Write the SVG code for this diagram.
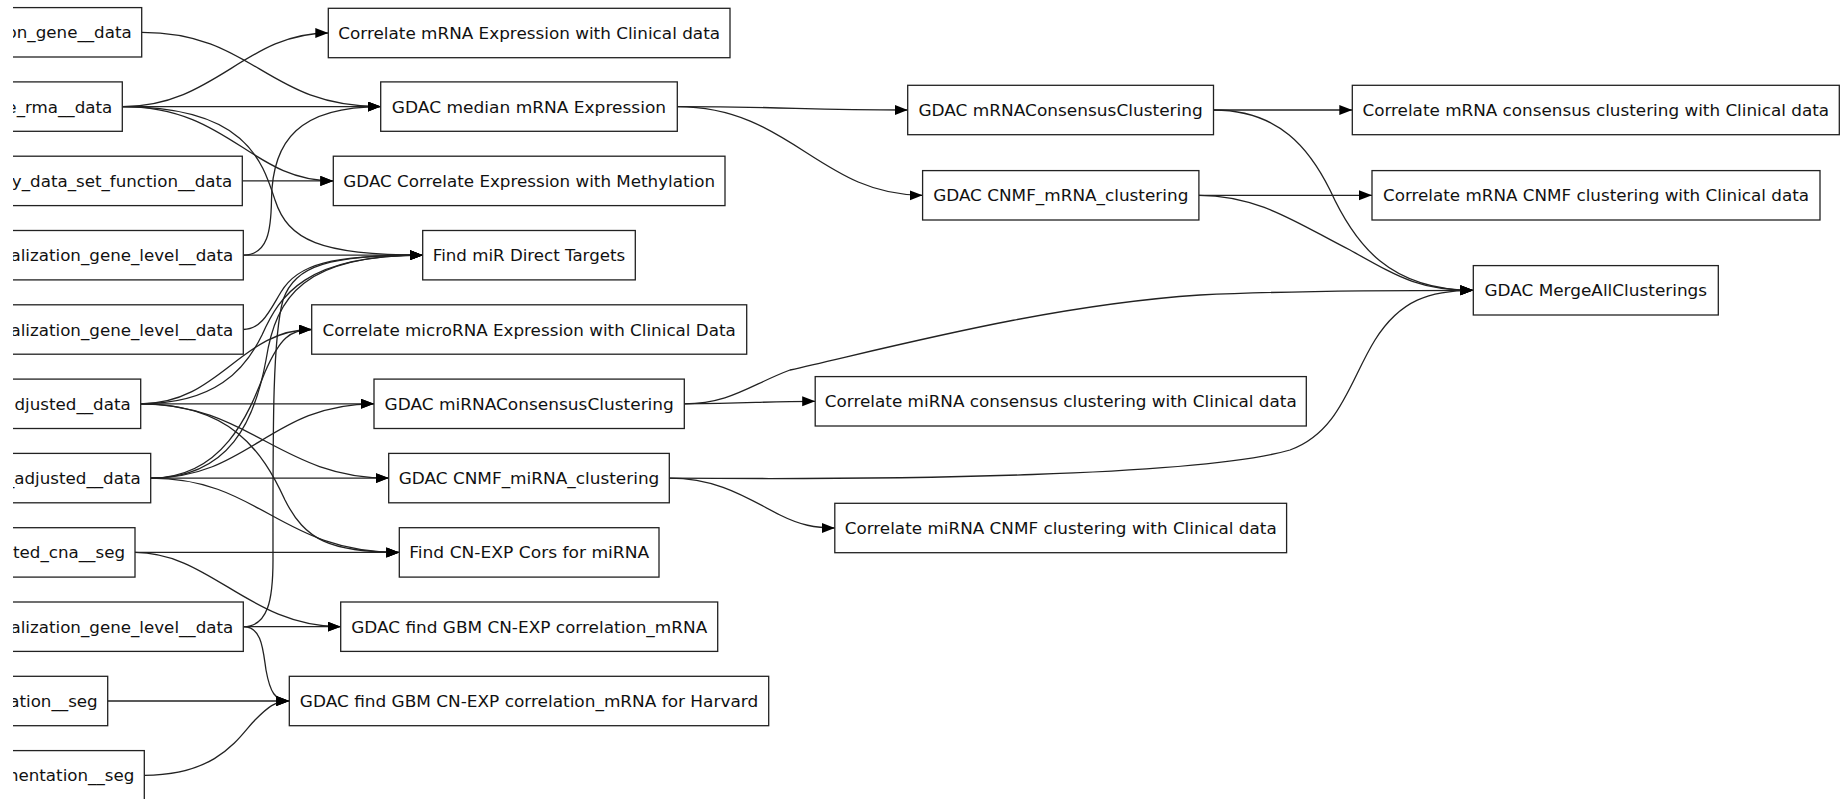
<svg xmlns="http://www.w3.org/2000/svg" width="1845" height="799" viewBox="0 0 1845 799">
<style>
rect.b{fill:#fff;stroke:#222;stroke-width:1.3}
text{font-family:"DejaVu Sans","Liberation Sans",sans-serif;font-size:16.7px;fill:#111}
text.l{text-anchor:end}
text.c{text-anchor:middle}
#edges path{fill:none;stroke:#222;stroke-width:1.3;marker-end:url(#a)}
</style>
<defs>
<marker id="a" markerUnits="userSpaceOnUse" markerWidth="14" markerHeight="12" refX="13" refY="5" orient="auto"><path d="M0,0 L13,5 L0,10 z" fill="#000"/></marker>
<clipPath id="lc"><rect x="13" y="0" width="400" height="799"/></clipPath>
</defs>
<rect width="1845" height="799" fill="#fff"/>
<g id="edges">
<path d="M141.7,32.3 C255,32.3 265,106.6 380.7,106.6"/>
<path d="M122.3,106.6 C215,106.6 245,33 328.3,33"/>
<path d="M122.3,106.6 L380.7,106.6"/>
<path d="M122.3,106.6 C230,106.6 250,180.9 333.3,180.9"/>
<path d="M122.3,106.6 C245,106.6 262,160 275,200 C288,240 320,255.2 422.7,255.2"/>
<path d="M242.3,180.9 L333.3,180.9"/>
<path d="M243.3,255.2 C268,255.2 271,230 271.5,200 C272,140 300,106.6 380.7,106.6"/>
<path d="M243.3,255.2 L422.7,255.2"/>
<path d="M243.3,329.5 C262,329.5 270,310 281,292 C298,264 330,255.2 422.7,255.2"/>
<path d="M140.7,403.8 C215,403.8 245,370 262,335 C280,295 305,255.2 422.7,255.2"/>
<path d="M140.7,403.8 C220,403.8 240,329.5 311.7,329.5"/>
<path d="M140.7,403.8 L374,403.8"/>
<path d="M140.7,403.8 C250,403.8 280,478.1 388.7,478.1"/>
<path d="M140.7,403.8 C230,403.8 262,450 285,500 C305,540 330,552.4 399.3,552.4"/>
<path d="M150.7,478.1 C230,478.1 255,420 266,360 C276,295 305,255.2 422.7,255.2"/>
<path d="M150.7,478.1 C225,478.1 250,410 265,372 C280,338 290,329.5 311.7,329.5"/>
<path d="M150.7,478.1 C250,478.1 270,403.8 374,403.8"/>
<path d="M150.7,478.1 L388.7,478.1"/>
<path d="M150.7,478.1 C260,478.1 280,552.4 399.3,552.4"/>
<path d="M135,552.4 L399.3,552.4"/>
<path d="M135,552.4 C210,552.4 250,626.7 340.7,626.7"/>
<path d="M243.3,626.7 C268,626.7 273,600 273,560 C273,440 272,340 283,300 C295,265 330,255.2 422.7,255.2"/>
<path d="M243.3,626.7 L340.7,626.7"/>
<path d="M243.3,626.7 C262,626.7 263,650 266,670 C270,692 275,701 289.3,701"/>
<path d="M107.7,701 L289.3,701"/>
<path d="M144.3,775.3 C220,775.3 240,735 255,720 C268,707 275,701 289.3,701"/>
<path d="M677.3,106.6 C790,106.6 800,110 907.7,110"/>
<path d="M677.3,106.6 C790,106.6 820,195.3 922.6,195.3"/>
<path d="M1213.5,110 L1352.3,110"/>
<path d="M1213.5,110 C1280,110 1310,150 1330,190 C1355,245 1390,290.3 1473.3,290.3"/>
<path d="M1198.9,195.3 L1372,195.3"/>
<path d="M1198.9,195.3 C1260,195.3 1300,225 1350,250 C1400,278 1420,290.3 1473.3,290.3"/>
<path d="M684.3,403.8 C730,403.8 750,385 790,370 C900,345 1050,305 1200,295 C1300,290.3 1400,290.3 1473.3,290.3"/>
<path d="M684.3,403.8 C750,403.8 760,401.3 815.2,401.3"/>
<path d="M669.3,478.1 C900,480 1200,476 1290,450 C1340,432 1350,380 1375,340 C1400,300 1430,290.3 1473.3,290.3"/>
<path d="M669.3,478.1 C720,478.1 750,500 780,515 C800,525 815,528 834.8,528"/>
</g>
<g clip-path="url(#lc)">
<g id="L1"><rect class="b" x="-60" y="7.6" width="201.7" height="49.4"/><text class="l" x="131.7" y="38.3">on_gene__data</text></g>
<g id="L2"><rect class="b" x="-60" y="81.9" width="182.3" height="49.4"/><text class="l" x="112.3" y="112.6">e_rma__data</text></g>
<g id="L3"><rect class="b" x="-60" y="156.2" width="302.3" height="49.4"/><text class="l" x="232.3" y="186.9">y_data_set_function__data</text></g>
<g id="L4"><rect class="b" x="-60" y="230.5" width="303.3" height="49.4"/><text class="l" x="233.3" y="261.2">alization_gene_level__data</text></g>
<g id="L5"><rect class="b" x="-60" y="304.8" width="303.3" height="49.4"/><text class="l" x="233.3" y="335.5">alization_gene_level__data</text></g>
<g id="L6"><rect class="b" x="-60" y="379.1" width="200.7" height="49.4"/><text class="l" x="130.7" y="409.8">djusted__data</text></g>
<g id="L7"><rect class="b" x="-60" y="453.4" width="210.7" height="49.4"/><text class="l" x="140.7" y="484.1">_adjusted__data</text></g>
<g id="L8"><rect class="b" x="-60" y="527.7" width="195" height="49.4"/><text class="l" x="125" y="558.4">ted_cna__seg</text></g>
<g id="L9"><rect class="b" x="-60" y="602" width="303.3" height="49.4"/><text class="l" x="233.3" y="632.7">alization_gene_level__data</text></g>
<g id="L10"><rect class="b" x="-60" y="676.3" width="167.7" height="49.4"/><text class="l" x="97.7" y="707">ation__seg</text></g>
<g id="L11"><rect class="b" x="-60" y="750.6" width="204.3" height="49.4"/><text class="l" x="134.3" y="781.3">mentation__seg</text></g>
</g>
<g id="T1"><rect class="b" x="328.3" y="8.3" width="401.7" height="49.4"/><text class="c" x="529.2" y="39" textLength="381.7" lengthAdjust="spacingAndGlyphs">Correlate mRNA Expression with Clinical data</text></g>
<g id="T2"><rect class="b" x="380.7" y="81.9" width="296.6" height="49.4"/><text class="c" x="529" y="112.6" textLength="274.3" lengthAdjust="spacingAndGlyphs">GDAC median mRNA Expression</text></g>
<g id="T3"><rect class="b" x="333.3" y="156.2" width="391.7" height="49.4"/><text class="c" x="529.2" y="186.9" textLength="371.7" lengthAdjust="spacingAndGlyphs">GDAC Correlate Expression with Methylation</text></g>
<g id="T4"><rect class="b" x="422.7" y="230.5" width="212.6" height="49.4"/><text class="c" x="529" y="261.2" textLength="192.3" lengthAdjust="spacingAndGlyphs">Find miR Direct Targets</text></g>
<g id="T5"><rect class="b" x="311.7" y="304.8" width="435" height="49.4"/><text class="c" x="529.2" y="335.5" textLength="413.3" lengthAdjust="spacingAndGlyphs">Correlate microRNA Expression with Clinical Data</text></g>
<g id="T6"><rect class="b" x="374" y="379.1" width="310.3" height="49.4"/><text class="c" x="529.2" y="409.8" textLength="289.3" lengthAdjust="spacingAndGlyphs">GDAC miRNAConsensusClustering</text></g>
<g id="T7"><rect class="b" x="388.7" y="453.4" width="280.6" height="49.4"/><text class="c" x="529" y="484.1" textLength="260.7" lengthAdjust="spacingAndGlyphs">GDAC CNMF_miRNA_clustering</text></g>
<g id="T8"><rect class="b" x="399.3" y="527.7" width="259.7" height="49.4"/><text class="c" x="529.2" y="558.4" textLength="240" lengthAdjust="spacingAndGlyphs">Find CN-EXP Cors for miRNA</text></g>
<g id="T9"><rect class="b" x="340.7" y="602" width="377" height="49.4"/><text class="c" x="529.2" y="632.7" textLength="356" lengthAdjust="spacingAndGlyphs">GDAC find GBM CN-EXP correlation_mRNA</text></g>
<g id="T10"><rect class="b" x="289.3" y="676.3" width="479.4" height="49.4"/><text class="c" x="529" y="707" textLength="458.3" lengthAdjust="spacingAndGlyphs">GDAC find GBM CN-EXP correlation_mRNA for Harvard</text></g>
<g id="M1"><rect class="b" x="907.7" y="85.3" width="305.8" height="49.4"/><text class="c" x="1060.6" y="116" textLength="284.3" lengthAdjust="spacingAndGlyphs">GDAC mRNAConsensusClustering</text></g>
<g id="M2"><rect class="b" x="922.6" y="170.6" width="276.3" height="49.4"/><text class="c" x="1060.75" y="201.3" textLength="255.2" lengthAdjust="spacingAndGlyphs">GDAC CNMF_mRNA_clustering</text></g>
<g id="R1"><rect class="b" x="1352.3" y="85.3" width="487" height="49.4"/><text class="c" x="1595.8" y="116" textLength="466.7" lengthAdjust="spacingAndGlyphs">Correlate mRNA consensus clustering with Clinical data</text></g>
<g id="R2"><rect class="b" x="1372" y="170.6" width="448" height="49.4"/><text class="c" x="1596" y="201.3" textLength="426" lengthAdjust="spacingAndGlyphs">Correlate mRNA CNMF clustering with Clinical data</text></g>
<g id="MERGE"><rect class="b" x="1473.3" y="265.6" width="245" height="49.4"/><text class="c" x="1595.8" y="296.3" textLength="222.7" lengthAdjust="spacingAndGlyphs">GDAC MergeAllClusterings</text></g>
<g id="R3"><rect class="b" x="815.2" y="376.6" width="491.1" height="49.4"/><text class="c" x="1060.75" y="407.3" textLength="472" lengthAdjust="spacingAndGlyphs">Correlate miRNA consensus clustering with Clinical data</text></g>
<g id="R4"><rect class="b" x="834.8" y="503.3" width="451.8" height="49.4"/><text class="c" x="1060.7" y="534" textLength="432" lengthAdjust="spacingAndGlyphs">Correlate miRNA CNMF clustering with Clinical data</text></g>
</svg>
